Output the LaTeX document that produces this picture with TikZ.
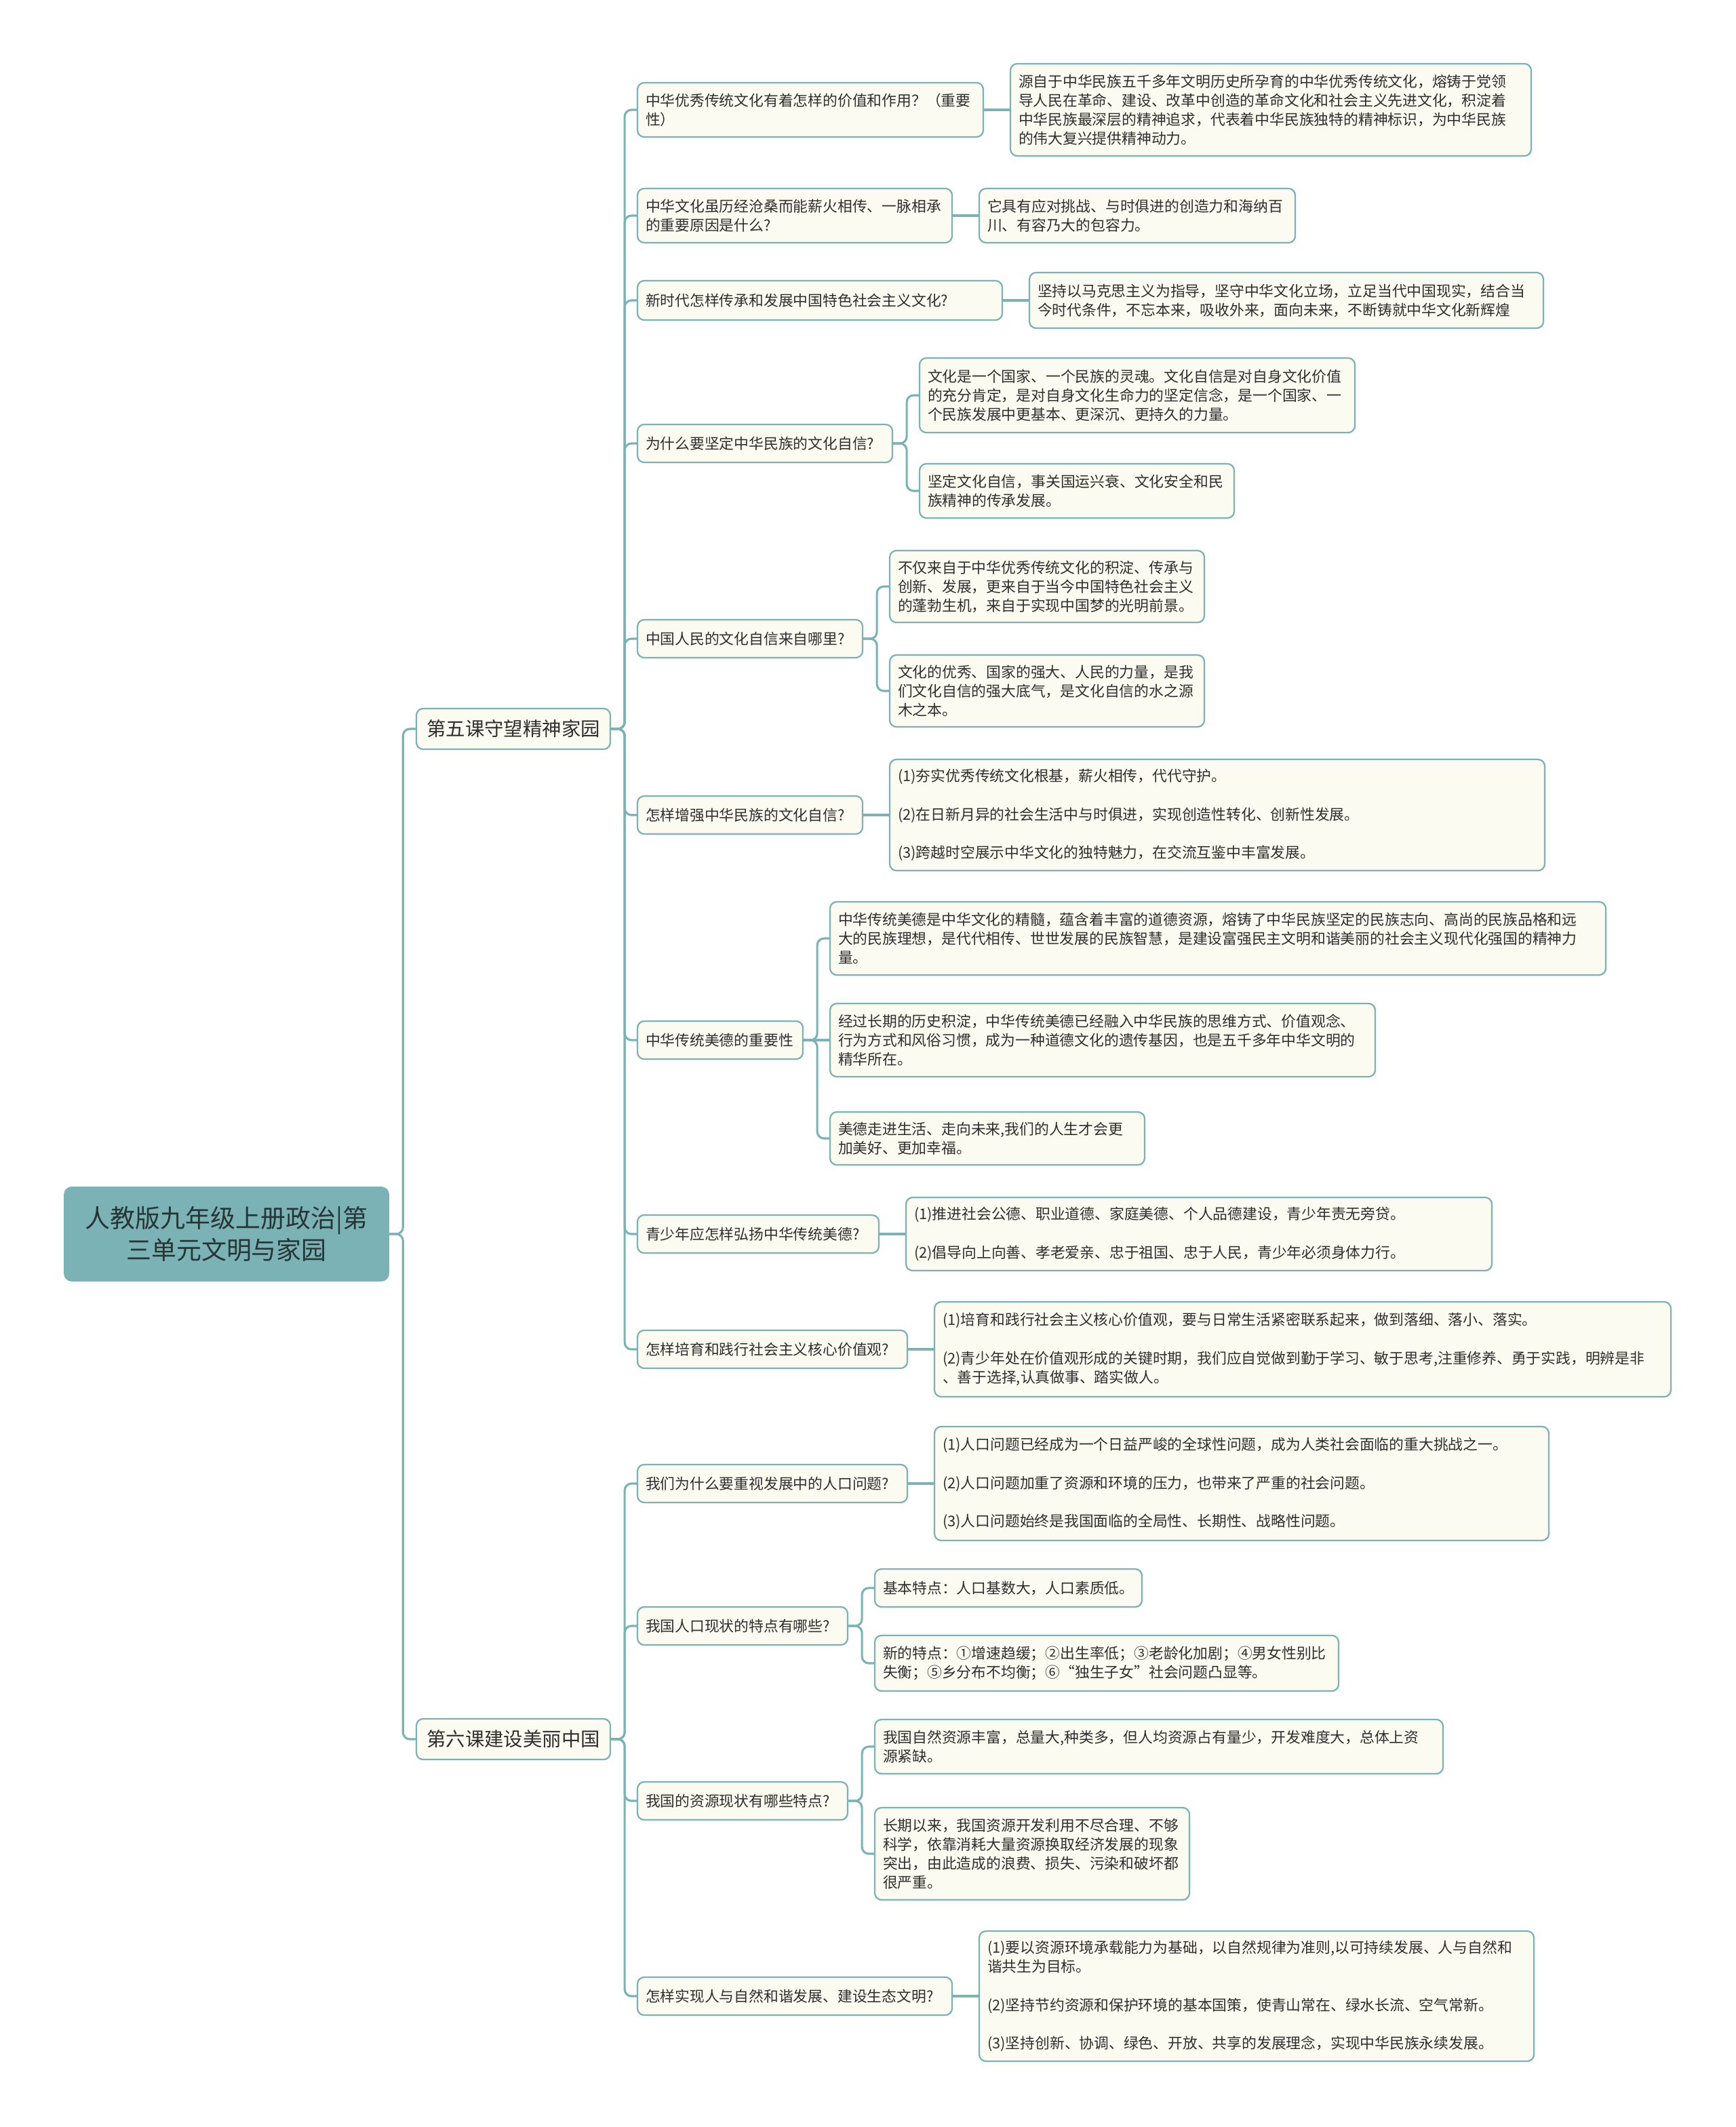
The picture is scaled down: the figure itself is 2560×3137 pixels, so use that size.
\documentclass[tikz,border=0pt]{standalone}
\usepackage{fontspec}
\setmainfont{Noto Sans CJK SC}
\definecolor{lc}{HTML}{7BB2B4}
\definecolor{boxfill}{HTML}{FCFBF1}
\definecolor{rootfill}{HTML}{7BB2B5}
\definecolor{txt}{HTML}{2E2E2E}
\definecolor{roottxt}{HTML}{263636}
\newcommand\bx[7]{%
  \pgfmathsetmacro\bxw{(#4-#2)*0.7113}%
  \pgfmathsetmacro\bxh{(#5-#3)*0.7113}%
  \pgfmathsetmacro\bxt{\bxw-2*8.536}%
  \node[#6,minimum width=\bxw pt,minimum height=\bxh pt,text width=\bxt pt] (#1) at ({(#2+#4)/2},{(#3+#5)/2}) {#7};}
\newcommand\lk[3]{\draw[conn] (#1.east) -- ++(#3,0) |- (#2.west);}
\newcommand\lks[2]{\draw[conn] (#1.east) -- (#2.west);}
\newcommand\ig{\\[20.5pt]}
\begin{document}
\begin{tikzpicture}[x=0.25mm,y=-0.25mm,
  nbox/.style={draw=lc,line width=1.6pt,fill=boxfill,rounded corners=2.5mm,inner xsep=3mm,inner ysep=0pt,align=left,text=txt,font=\fontsize{15.5}{19.9}\selectfont},
  l1box/.style={nbox,align=center,font=\fontsize{20.2}{26}\selectfont},
  rootbox/.style={draw=none,fill=rootfill,rounded corners=3mm,inner xsep=3mm,inner ysep=0pt,align=center,text=roottxt,font=\fontsize{26.3}{34}\selectfont},
  conn/.style={draw=lc,line width=2.2pt,rounded corners=2.5mm}]
\useasboundingbox (0,0) rectangle (2560,3137);
\fill[white] (0,0) rectangle (2560,3137);

% connectors first (drawn under boxes)
\path (0,0);
% root and level 1
\bx{root}{94}{1750}{574}{1890}{rootbox}{人教版九年级上册政治|第\\三单元文明与家园}
\bx{la}{614}{1045}{900}{1105}{l1box}{第五课守望精神家园}
\bx{lb}{614}{2535}{900}{2595}{l1box}{第六课建设美丽中国}

% level 2
\bx{q1}{940}{122}{1450}{202}{nbox}{中华优秀传统文化有着怎样的价值和作用？（重要\\性）}
\bx{q2}{940}{278}{1404}{358}{nbox}{中华文化虽历经沧桑而能薪火相传、一脉相承\\的重要原因是什么?}
\bx{q3}{940}{414}{1478}{472}{nbox}{新时代怎样传承和发展中国特色社会主义文化?}
\bx{q4}{940}{626}{1316}{682}{nbox}{为什么要坚定中华民族的文化自信?}
\bx{q5}{940}{914}{1272}{970}{nbox}{中国人民的文化自信来自哪里?}
\bx{q6}{940}{1174}{1272}{1230}{nbox}{怎样增强中华民族的文化自信?}
\bx{q7}{940}{1506}{1184}{1562}{nbox}{中华传统美德的重要性}
\bx{q8}{940}{1792}{1296}{1848}{nbox}{青少年应怎样弘扬中华传统美德?}
\bx{q9}{940}{1962}{1338}{2018}{nbox}{怎样培育和践行社会主义核心价值观?}
\bx{q10}{940}{2160}{1338}{2216}{nbox}{我们为什么要重视发展中的人口问题?}
\bx{q11}{940}{2370}{1250}{2426}{nbox}{我国人口现状的特点有哪些?}
\bx{q12}{940}{2628}{1250}{2684}{nbox}{我国的资源现状有哪些特点?}
\bx{q13}{940}{2916}{1404}{2972}{nbox}{怎样实现人与自然和谐发展、建设生态文明?}

% leaves
\bx{a1}{1490}{94}{2258}{230}{nbox}{源自于中华民族五千多年文明历史所孕育的中华优秀传统文化，熔铸于党领\\导人民在革命、建设、改革中创造的革命文化和社会主义先进文化，积淀着\\中华民族最深层的精神追求，代表着中华民族独特的精神标识，为中华民族\\的伟大复兴提供精神动力。}
\bx{a2}{1444}{278}{1910}{358}{nbox}{它具有应对挑战、与时俱进的创造力和海纳百\\川、有容乃大的包容力。}
\bx{a3}{1518}{402}{2276}{484}{nbox}{坚持以马克思主义为指导，坚守中华文化立场，立足当代中国现实，结合当\\今时代条件，不忘本来，吸收外来，面向未来，不断铸就中华文化新辉煌}
\bx{a4a}{1356}{528}{1998}{638}{nbox}{文化是一个国家、一个民族的灵魂。文化自信是对自身文化价值\\的充分肯定，是对自身文化生命力的坚定信念，是一个国家、一\\个民族发展中更基本、更深沉、更持久的力量。}
\bx{a4b}{1356}{684}{1820}{764}{nbox}{坚定文化自信，事关国运兴衰、文化安全和民\\族精神的传承发展。}
\bx{a5a}{1312}{812}{1776}{918}{nbox}{不仅来自于中华优秀传统文化的积淀、传承与\\创新、发展，更来自于当今中国特色社会主义\\的蓬勃生机，来自于实现中国梦的光明前景。}
\bx{a5b}{1312}{966}{1776}{1072}{nbox}{文化的优秀、国家的强大、人民的力量，是我\\们文化自信的强大底气，是文化自信的水之源\\木之本。}
\bx{a6}{1312}{1120}{2278}{1284}{nbox}{(1)夯实优秀传统文化根基，薪火相传，代代守护。\ig (2)在日新月异的社会生活中与时俱进，实现创造性转化、创新性发展。\ig (3)跨越时空展示中华文化的独特魅力，在交流互鉴中丰富发展。}
\bx{a7a}{1224}{1330}{2368}{1438}{nbox}{中华传统美德是中华文化的精髓，蕴含着丰富的道德资源，熔铸了中华民族坚定的民族志向、高尚的民族品格和远\\大的民族理想，是代代相传、世世发展的民族智慧，是建设富强民主文明和谐美丽的社会主义现代化强国的精神力\\量。}
\bx{a7b}{1224}{1480}{2028}{1588}{nbox}{经过长期的历史积淀，中华传统美德已经融入中华民族的思维方式、价值观念、\\行为方式和风俗习惯，成为一种道德文化的遗传基因，也是五千多年中华文明的\\精华所在。}
\bx{a7c}{1224}{1640}{1688}{1718}{nbox}{美德走进生活、走向未来,我们的人生才会更\\加美好、更加幸福。}
\bx{a8}{1336}{1766}{2200}{1874}{nbox}{(1)推进社会公德、职业道德、家庭美德、个人品德建设，青少年责无旁贷。\ig (2)倡导向上向善、孝老爱亲、忠于祖国、忠于人民，青少年必须身体力行。}
\bx{a9}{1378}{1920}{2464}{2060}{nbox}{(1)培育和践行社会主义核心价值观，要与日常生活紧密联系起来，做到落细、落小、落实。\ig (2)青少年处在价值观形成的关键时期，我们应自觉做到勤于学习、敏于思考,注重修养、勇于实践，明辨是非\\、善于选择,认真做事、踏实做人。}
\bx{a10}{1378}{2104}{2284}{2272}{nbox}{(1)人口问题已经成为一个日益严峻的全球性问题，成为人类社会面临的重大挑战之一。\ig (2)人口问题加重了资源和环境的压力，也带来了严重的社会问题。\ig (3)人口问题始终是我国面临的全局性、长期性、战略性问题。}
\bx{a11a}{1290}{2314}{1684}{2370}{nbox}{基本特点：人口基数大，人口素质低。}
\bx{a11b}{1290}{2412}{1974}{2494}{nbox}{新的特点：①增速趋缓；②出生率低；③老龄化加剧；④男女性别比\\失衡；⑤乡分布不均衡；⑥“独生子女”社会问题凸显等。}
\bx{a12a}{1290}{2536}{2128}{2616}{nbox}{我国自然资源丰富，总量大,种类多，但人均资源占有量少，开发难度大，总体上资\\源紧缺。}
\bx{a12b}{1290}{2666}{1754}{2802}{nbox}{长期以来，我国资源开发利用不尽合理、不够\\科学，依靠消耗大量资源换取经济发展的现象\\突出，由此造成的浪费、损失、污染和破坏都\\很严重。}
\bx{a13}{1444}{2848}{2262}{3040}{nbox}{(1)要以资源环境承载能力为基础，以自然规律为准则,以可持续发展、人与自然和\\谐共生为目标。\ig (2)坚持节约资源和保护环境的基本国策，使青山常在、绿水长流、空气常新。\ig (3)坚持创新、协调、绿色、开放、共享的发展理念，实现中华民族永续发展。}

% connectors
\begin{scope}[on background layer/.try]
\end{scope}
\lk{root}{la}{20}
\lk{root}{lb}{20}
\foreach \q in {q1,q2,q3,q4,q5,q6,q7,q8,q9} {\lk{la}{\q}{20}}
\foreach \q in {q10,q11,q12,q13} {\lk{lb}{\q}{20}}
\lks{q1}{a1}
\lks{q2}{a2}
\lks{q3}{a3}
\lk{q4}{a4a}{20}
\lk{q4}{a4b}{20}
\lk{q5}{a5a}{20}
\lk{q5}{a5b}{20}
\lks{q6}{a6}
\lk{q7}{a7a}{20}
\lks{q7}{a7b}
\lk{q7}{a7c}{20}
\lks{q8}{a8}
\lks{q9}{a9}
\lks{q10}{a10}
\lk{q11}{a11a}{20}
\lk{q11}{a11b}{20}
\lk{q12}{a12a}{20}
\lk{q12}{a12b}{20}
\lks{q13}{a13}
\end{tikzpicture}
\end{document}
